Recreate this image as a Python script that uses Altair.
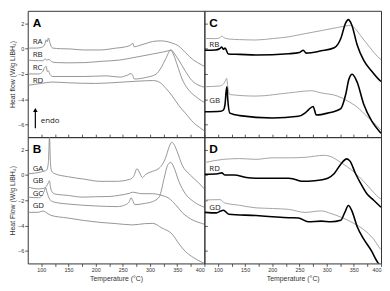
import altair as alt
import pandas as pd

# ---------------- Panel A (gray) ----------------
RA_T = [75, 90, 100, 106, 109, 111, 113, 115, 118, 121, 135, 154, 178, 208, 238, 255, 265, 268, 271, 280, 295, 305, 320, 333, 341, 353, 365, 380, 395, 400]
RA_Y = [0.05, 0.05, 0.1, 0.3, 0.7, 0.55, 0.85, 0.6, 0.2, 0.05, 0.0, -0.02, -0.1, -0.1, 0.05, 0.15, 0.3, 0.44, 0.15, 0.25, 0.45, 0.57, 0.62, 0.55, 0.44, 0.2, -0.3, -0.9, -1.28, -1.4]
RB_T = [75, 95, 103, 107, 110, 114, 120, 130, 150, 180, 210, 244, 274, 305, 325, 335, 339, 345, 353, 365, 377, 390, 400]
RB_Y = [-0.9, -0.95, -0.95, -0.8, -0.9, -0.85, -1.05, -1.1, -1.12, -1.1, -1.0, -0.9, -0.67, -0.42, -0.25, -0.15, -0.1, -0.4, -0.91, -1.78, -2.52, -2.9, -3.05]
RC_T = [75, 95, 102, 106, 109, 111, 113, 116, 121, 140, 180, 220, 244, 258, 265, 268, 271, 293, 311, 320, 329, 338, 344, 350, 359, 371, 383, 395, 400]
RC_Y = [-2.0, -2.0, -1.85, -1.5, -1.4, -1.8, -1.75, -2.05, -2.2, -2.2, -2.2, -2.15, -2.25, -2.1, -1.97, -2.1, -2.4, -2.27, -2.02, -1.53, -0.79, -0.12, -0.54, -1.28, -2.4, -3.26, -3.75, -4.13, -4.25]
RD_T = [75, 100, 119, 150, 200, 250, 274, 305, 317, 329, 341, 353, 365, 380, 395, 400]
RD_Y = [-2.9, -2.75, -2.64, -2.7, -2.75, -2.64, -2.58, -2.52, -2.64, -3.13, -3.75, -4.5, -5.1, -5.85, -6.35, -6.5]

# ---------------- Panel B (gray) ----------------
GA_T = [75, 100, 110, 113, 115, 117, 119, 124, 148, 178, 208, 238, 262, 270, 276, 280, 286, 292, 300, 317, 329, 335, 340, 345, 350, 359, 374, 389, 400]
GA_Y = [0.1, 0.25, 0.4, 1.0, 2.98, 0.8, 0.3, 0.12, -0.13, -0.32, -0.5, -0.5, -0.35, -0.1, 0.5, 0.25, -0.2, 0.05, 0.22, 0.55, 1.4, 2.2, 2.6, 2.35, 1.85, 0.8, 0.0, -0.6, -1.1]
GB_T = [75, 95, 105, 110, 113, 115, 117, 120, 125, 150, 175, 200, 225, 244, 262, 268, 285, 305, 320, 335, 347, 359, 374, 395, 400]
GB_Y = [-0.95, -1.1, -1.05, -0.85, -0.6, -0.45, -1.0, -1.35, -1.5, -1.62, -1.75, -1.72, -1.7, -1.6, -1.45, -1.36, -1.48, -1.48, -1.6, -1.85, -2.35, -2.96, -3.46, -3.83, -3.9]
GC_T = [75, 95, 102, 106, 108, 110, 113, 118, 130, 150, 200, 240, 255, 262, 265, 268, 272, 290, 305, 317, 326, 332, 338, 344, 353, 365, 380, 400]
GC_Y = [-1.75, -1.8, -1.6, -1.2, -1.0, -1.3, -1.7, -2.05, -2.2, -2.3, -2.45, -2.5, -2.35, -2.1, -1.8, -2.0, -2.35, -2.25, -2.1, -1.73, -0.25, 0.74, 1.0, 0.6, -0.5, -1.48, -2.1, -2.55]
GD_T = [75, 95, 103, 110, 118, 148, 178, 208, 238, 268, 290, 305, 322, 341, 353, 365, 380, 395, 400]
GD_Y = [-2.96, -2.95, -2.85, -3.0, -3.2, -3.4, -3.6, -3.75, -3.85, -3.95, -3.85, -3.83, -4.2, -4.69, -5.43, -6.05, -6.54, -6.9, -7.0]

# ---------------- Panel C ----------------
C_RB_GRAY_T = [76, 95, 103, 107, 112, 122, 140, 170, 200, 230, 260, 290, 320, 335, 344, 350, 362, 380, 398, 400]
C_RB_GRAY_Y = [0.81, 0.8, 0.85, 1.0, 0.85, 0.76, 0.72, 0.69, 0.8, 0.94, 1.19, 1.43, 1.68, 1.8, 1.85, 1.7, 1.06, 0.07, -0.79, -0.85]
C_RB_BLACK_T = [76, 95, 103, 107, 110, 113, 119, 140, 170, 230, 250, 257, 262, 290, 314, 326, 335, 340, 346, 356, 368, 383, 398, 400]
C_RB_BLACK_Y = [-0.12, -0.1, 0.0, 0.13, -0.05, 0.05, -0.42, -0.45, -0.5, -0.4, -0.3, -0.12, -0.35, -0.17, 0.07, 0.81, 2.05, 2.3, 1.9, 0.32, -0.91, -1.78, -2.52, -2.6]
C_GB_GRAY_T = [76, 103, 110, 114, 116, 118, 122, 170, 230, 272, 290, 320, 338, 356, 374, 398, 400]
C_GB_GRAY_Y = [-3.01, -2.95, -2.8, -2.5, -2.35, -3.0, -3.63, -3.75, -3.5, -3.33, -3.5, -3.75, -4.13, -4.62, -5.36, -6.35, -6.45]
C_GB_BLACK_T = [76, 105, 110, 113, 115, 116.5, 118, 122, 140, 200, 248, 260, 266, 275, 281, 302, 326, 335, 341, 347, 356, 368, 383, 398, 400]
C_GB_BLACK_Y = [-4.99, -4.95, -4.85, -4.4, -3.4, -3.01, -4.0, -5.1, -5.3, -5.48, -5.35, -5.1, -4.86, -4.57, -5.25, -5.1, -4.74, -3.63, -2.4, -2.02, -2.64, -4.37, -5.73, -6.6, -6.7]

# ---------------- Panel D ----------------
D_RD_GRAY_T = [76, 110, 140, 170, 200, 230, 260, 296, 308, 326, 350, 368, 386, 398, 400]
D_RD_GRAY_Y = [0.99, 1.24, 1.3, 1.24, 1.36, 1.36, 1.4, 1.56, 1.45, 0.99, 0.25, -0.5, -1.36, -1.85, -1.9]
D_RD_BLACK_T = [76, 100, 107, 113, 130, 152, 170, 230, 242, 254, 278, 302, 314, 326, 337, 343, 353, 362, 374, 386, 398, 400]
D_RD_BLACK_Y = [0.05, 0.1, 0.17, 0.0, 0.0, -0.2, -0.25, -0.25, -0.35, -0.5, -0.45, -0.25, 0.12, 0.86, 1.28, 1.1, 0.12, -0.62, -1.48, -1.98, -2.47, -2.55]
D_GD_GRAY_T = [76, 104, 112, 140, 170, 200, 230, 260, 290, 308, 326, 350, 368, 386, 398, 400]
D_GD_GRAY_Y = [-1.98, -1.95, -2.2, -2.4, -2.6, -2.65, -2.72, -2.96, -2.84, -3.05, -3.33, -3.83, -4.32, -5.06, -5.8, -5.9]
D_GD_BLACK_T = [76, 97, 105, 110, 120, 170, 200, 230, 248, 266, 290, 308, 326, 333, 340, 346, 356, 368, 383, 392, 400]
D_GD_BLACK_Y = [-2.96, -3.0, -2.85, -2.79, -3.1, -3.21, -3.3, -3.38, -3.4, -3.7, -3.65, -3.7, -3.58, -3.0, -2.42, -2.8, -4.07, -5.06, -6.05, -6.79, -7.3]

# ---------------- Annotations ----------------
LETTER_T = 84
LETTER_Y = 2.05
A_LABELS = ["RA", "RB", "RC", "RD"]
A_LABEL_Y = [0.52, -0.47, -1.53, -2.52]
B_LABELS = ["GA", "GB", "GC", "GD"]
B_LABEL_Y = [0.5, -0.5, -1.48, -2.47]
C_LABELS = ["RB", "GB"]
C_LABEL_Y = [0.32, -4.12]
D_LABELS = ["RD", "GD"]
D_LABEL_Y = [0.5, -2.6]
LABEL_T = 84
ENDO_T = 89
ENDO_Y = [-6.3, -4.85]
ENDO_TEXT_T = 99
ENDO_TEXT_Y = -5.75

X_DOMAIN = [75, 400]
Y_DOMAIN = [-7, 3]
X_TICKS = list(range(100, 401, 25))
Y_TICKS = [-6, -4, -2, 0, 2]
W, H = 179, 128
FONT = "Liberation Sans"

XS = alt.Scale(domain=X_DOMAIN, nice=False, zero=False)
YS = alt.Scale(domain=Y_DOMAIN, nice=False, zero=False)


def sdf(name, T, Y, tone):
    return pd.DataFrame({"T": T, "HF": Y, "series": name, "tone": tone})


def panel(lines, letter, labels, label_y, bottom, left, ytitle="", endo=False):
    df = pd.concat(lines, ignore_index=True)
    if bottom:
        xax = alt.Axis(values=X_TICKS, labelExpr="datum.value % 50 == 0 ? datum.label : ''",
                       title="Temperature (°C)", grid=False, domain=False)
    else:
        xax = alt.Axis(values=X_TICKS, labels=False, title=None, grid=False,
                       domain=False, offset=-3)
    if left:
        yax = alt.Axis(values=Y_TICKS, title=ytitle, grid=False, domain=False)
    else:
        yax = alt.Axis(values=Y_TICKS, labels=False, title=None, grid=False,
                       domain=False, offset=-3)
    x = alt.X("T:Q", scale=XS, axis=xax)
    y = alt.Y("HF:Q", scale=YS, axis=yax)
    lyr = []
    for tone, col, sw in [("gray", "#9a9a9a", 0.9), ("lgray", "#8a8a8a", 0.9), ("black", "#000000", 1.6)]:
        sub = df[df["tone"] == tone]
        if len(sub):
            lyr.append(alt.Chart(sub)
                       .mark_line(color=col, strokeWidth=sw, clip=True, interpolate="monotone")
                       .encode(x=x, y=y, detail="series:N"))
    ldf = pd.DataFrame({"T": [LABEL_T] * len(labels), "HF": label_y, "txt": labels})
    lyr.append(alt.Chart(ldf).mark_text(align="left", baseline="middle", font="Open Sans",
                                       fontSize=8, color="#222222")
               .encode(x=x, y=y, text="txt:N"))
    pdf = pd.DataFrame({"T": [LETTER_T], "HF": [LETTER_Y], "txt": [letter]})
    lyr.append(alt.Chart(pdf).mark_text(align="left", baseline="middle", font=FONT,
                                       fontSize=12, fontWeight="bold", color="#000000")
               .encode(x=x, y=y, text="txt:N"))
    if endo:
        adf = pd.DataFrame({"T": [ENDO_T], "HF": [ENDO_Y[0]], "HF2": [ENDO_Y[1]]})
        lyr.append(alt.Chart(adf).mark_rule(color="#000000", strokeWidth=1.2)
                   .encode(x=x, y=y, y2="HF2:Q"))
        hdf = pd.DataFrame({"T": [ENDO_T], "HF": [ENDO_Y[1]]})
        lyr.append(alt.Chart(hdf).mark_point(shape="triangle-up", filled=True, size=22,
                                            color="#000000", opacity=1)
                   .encode(x=x, y=y))
        edf = pd.DataFrame({"T": [ENDO_TEXT_T], "HF": [ENDO_TEXT_Y], "txt": ["endo"]})
        lyr.append(alt.Chart(edf).mark_text(align="left", baseline="middle", font="Open Sans",
                                           fontSize=8, color="#222222")
                   .encode(x=x, y=y, text="txt:N"))
    return alt.layer(*lyr).properties(width=W, height=H)


pA = panel([sdf("RA", RA_T, RA_Y, "lgray"), sdf("RB", RB_T, RB_Y, "lgray"),
            sdf("RC", RC_T, RC_Y, "lgray"), sdf("RD", RD_T, RD_Y, "lgray")],
           "A", A_LABELS, A_LABEL_Y, bottom=False, left=True,
           ytitle="Heat flow (W/g LiBH₄)", endo=True)
pB = panel([sdf("GA", GA_T, GA_Y, "lgray"), sdf("GB", GB_T, GB_Y, "lgray"),
            sdf("GC", GC_T, GC_Y, "lgray"), sdf("GD", GD_T, GD_Y, "lgray")],
           "B", B_LABELS, B_LABEL_Y, bottom=True, left=True,
           ytitle="Heat Flow (W/g LiBH₄)")
pC = panel([sdf("RBg", C_RB_GRAY_T, C_RB_GRAY_Y, "gray"), sdf("RBk", C_RB_BLACK_T, C_RB_BLACK_Y, "black"),
            sdf("GBg", C_GB_GRAY_T, C_GB_GRAY_Y, "gray"), sdf("GBk", C_GB_BLACK_T, C_GB_BLACK_Y, "black")],
           "C", C_LABELS, C_LABEL_Y, bottom=False, left=False)
pD = panel([sdf("RDg", D_RD_GRAY_T, D_RD_GRAY_Y, "gray"), sdf("RDk", D_RD_BLACK_T, D_RD_BLACK_Y, "black"),
            sdf("GDg", D_GD_GRAY_T, D_GD_GRAY_Y, "gray"), sdf("GDk", D_GD_BLACK_T, D_GD_BLACK_Y, "black")],
           "D", D_LABELS, D_LABEL_Y, bottom=True, left=False)

chart = alt.concat(pA, pC, pB, pD, columns=2, spacing=0, bounds="flush", padding=0).configure_view(
    stroke="#333333", strokeWidth=1
).configure_axis(
    tickColor="#333333", tickSize=3, tickWidth=0.8,
    labelFont=FONT, labelFontSize=5.5, labelColor="#333333", labelPadding=1,
    titleFont=FONT, titleFontSize=7, titleFontWeight="normal", titleColor="#333333", titlePadding=2
)

chart.save("out.html", embed_options={"renderer": "svg", "actions": False})
